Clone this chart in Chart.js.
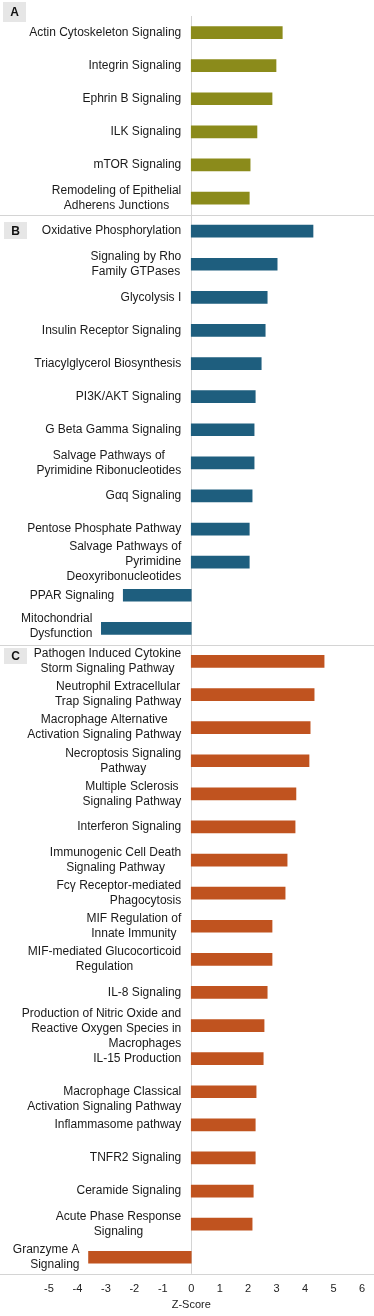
<!DOCTYPE html>
<html lang="en">
<head>
  <meta charset="UTF-8">
  <title>Z-Score pathways</title>
  <script src="https://cdn.jsdelivr.net/npm/chart.js"></script>
  <style>
    body { margin: 0; background: #fff; }
    #wrap { width: 374px; height: 1316px; }
  </style>
</head>
<body>
  <div id="wrap"><canvas id="myChart" width="374" height="1316"></canvas></div>

  <script>
    // panel A
    const labelsA = [
      ['Actin Cytoskeleton Signaling'],
      ['Integrin Signaling'],
      ['Ephrin B Signaling'],
      ['ILK Signaling'],
      ['mTOR Signaling'],
      ['Remodeling of Epithelial', 'Adherens Junctions']
    ];
    const valuesA = [3.2, 2.98, 2.84, 2.31, 2.07, 2.04];

    // panel B
    const labelsB = [
      ['Oxidative Phosphorylation'],
      ['Signaling by Rho', 'Family GTPases'],
      ['Glycolysis I'],
      ['Insulin Receptor Signaling'],
      ['Triacylglycerol Biosynthesis'],
      ['PI3K/AKT Signaling'],
      ['G Beta Gamma Signaling'],
      ['Salvage Pathways of', 'Pyrimidine Ribonucleotides'],
      ['Gαq Signaling'],
      ['Pentose Phosphate Pathway'],
      ['Salvage Pathways of', 'Pyrimidine', 'Deoxyribonucleotides'],
      ['PPAR Signaling'],
      ['Mitochondrial', 'Dysfunction']
    ];
    const valuesB = [4.28, 3.02, 2.67, 2.6, 2.46, 2.25, 2.21, 2.21, 2.14, 2.04, 2.04, -2.39, -3.16];

    // panel C
    const labelsC = [
      ['Pathogen Induced Cytokine', 'Storm Signaling Pathway'],
      ['Neutrophil Extracellular', 'Trap Signaling Pathway'],
      ['Macrophage Alternative', 'Activation Signaling Pathway'],
      ['Necroptosis Signaling', 'Pathway'],
      ['Multiple Sclerosis', 'Signaling Pathway'],
      ['Interferon Signaling'],
      ['Immunogenic Cell Death', 'Signaling Pathway'],
      ['Fcγ Receptor-mediated', 'Phagocytosis'],
      ['MIF Regulation of', 'Innate Immunity'],
      ['MIF-mediated Glucocorticoid', 'Regulation'],
      ['IL-8 Signaling'],
      ['Production of Nitric Oxide and', 'Reactive Oxygen Species in', 'Macrophages'],
      ['IL-15 Production'],
      ['Macrophage Classical', 'Activation Signaling Pathway'],
      ['Inflammasome pathway'],
      ['TNFR2 Signaling'],
      ['Ceramide Signaling'],
      ['Acute Phase Response', 'Signaling'],
      ['Granzyme A', 'Signaling']
    ];
    const valuesC = [4.67, 4.32, 4.18, 4.14, 3.68, 3.65, 3.37, 3.3, 2.84, 2.84, 2.67, 2.56, 2.53, 2.28, 2.25, 2.25, 2.18, 2.14, -3.61];

    const panelNames = ['A', 'B', 'C'];
    const xTicks = [-5, -4, -3, -2, -1, 0, 1, 2, 3, 4, 5, 6];
    const xTitle = 'Z-Score';

    const colors = ['#8b8b1b', '#1e5e7e', '#c0531f'];
    const groups = [labelsA, labelsB, labelsC];
    const groupVals = [valuesA, valuesB, valuesC];

    const allLabels = [];
    const allValues = [];
    const barColors = [];
    const groupStart = [];
    groups.forEach(function(g, gi) {
      groupStart.push(allLabels.length);
      g.forEach(function(l, i) {
        allLabels.push(l);
        allValues.push(groupVals[gi][i]);
        barColors.push(colors[gi]);
      });
    });

    // multi-line labels whose lines are centred on each other (others are right aligned)
    const centredText = [
      'Remodeling of Epithelial', 'Signaling by Rho', 'Salvage Pathways of|Pyrimidine Ribonucleotides',
      'Pathogen Induced Cytokine', 'Neutrophil Extracellular', 'Macrophage Alternative',
      'Necroptosis Signaling', 'Multiple Sclerosis', 'Immunogenic Cell Death',
      'MIF Regulation of', 'MIF-mediated Glucocorticoid', 'Acute Phase Response'
    ];
    const nudge = { 'Macrophage Classical': 7, 'Production of Nitric Oxide and': 3, 'Mitochondrial': -2 };

    const FONT = '"Liberation Sans", Arial, sans-serif';

    const decor = {
      id: 'decor',
      beforeDatasetsDraw(chart) {
        const c = chart.ctx;
        const area = chart.chartArea;
        const x = chart.scales.x;
        const y = chart.scales.y;
        c.save();
        c.strokeStyle = '#d4d4d4';
        c.lineWidth = 1;
        // zero line
        const x0 = Math.round(x.getPixelForValue(0)) + 0.5;
        c.beginPath();
        c.moveTo(x0, area.top);
        c.lineTo(x0, area.bottom);
        c.stroke();
        // panel separators and bottom axis
        const half = (y.getPixelForValue(1) - y.getPixelForValue(0)) / 2;
        groupStart.slice(1).forEach(function(s) {
          const yy = Math.round(y.getPixelForValue(s) - half) + 0.5;
          c.beginPath();
          c.moveTo(0, yy);
          c.lineTo(chart.width, yy);
          c.stroke();
        });
        const yb = Math.round(area.bottom) + 0.5;
        c.beginPath();
        c.moveTo(0, yb);
        c.lineTo(chart.width, yb);
        c.stroke();
        c.restore();
      },
      afterDraw(chart) {
        const c = chart.ctx;
        const area = chart.chartArea;
        const x = chart.scales.x;
        const y = chart.scales.y;
        const x0 = x.getPixelForValue(0);
        c.save();
        c.font = '12px ' + FONT;
        c.fillStyle = '#1a1a1a';
        c.textBaseline = 'middle';
        allLabels.forEach(function(lines, i) {
          const v = allValues[i];
          const right = v < 0 ? x.getPixelForValue(v) - 9 : x0 - 10;
          const lh = 15;
          const cy = y.getPixelForValue(i) + (nudge[lines[0]] || 0);
          const top = cy - (lines.length - 1) * lh / 2;
          const key = lines.join('|');
          const centred = centredText.indexOf(lines[0]) >= 0 || centredText.indexOf(key) >= 0;
          const widths = lines.map(function(t) { return c.measureText(t).width; });
          const maxW = Math.max.apply(null, widths);
          lines.forEach(function(t, k) {
            let xr = right;
            if (centred) xr = right - (maxW - widths[k]) / 2;
            c.textAlign = 'right';
            c.fillText(t, xr, top + k * lh);
          });
        });
        // axis title
        c.font = '11px ' + FONT;
        c.fillStyle = '#222';
        c.textAlign = 'center';
        c.fillText(xTitle, x0, area.bottom + 31);
        // panel letter boxes
        const boxes = [[3, 2, 23, 20], [4, 222, 23, 17], [4, 648, 23, 16]];
        panelNames.forEach(function(n, i) {
          const b = boxes[i];
          c.fillStyle = '#e6e6e6';
          c.fillRect(b[0], b[1], b[2], b[3]);
          c.fillStyle = '#111';
          c.font = 'bold 12px ' + FONT;
          c.textAlign = 'center';
          c.fillText(n, b[0] + b[2] / 2, b[1] + b[3] / 2 + 1);
        });
        c.restore();
      }
    };

    const ctx = document.getElementById('myChart');
    const chart = new Chart(ctx, {
      type: 'bar',
      data: {
        labels: allLabels.map(function(l) { return l.join(' '); }),
        datasets: [{
          data: allValues,
          backgroundColor: barColors,
          barThickness: 12
        }]
      },
      options: {
        indexAxis: 'y',
        responsive: false,
        animation: false,
        layout: {
          padding: { top: 16, left: 49, right: 11, bottom: 11 }
        },
        scales: {
          x: {
            min: -5,
            max: 6,
            afterBuildTicks: function(axis) {
              axis.ticks = xTicks.map(function(v) { return { value: v }; });
            },
            grid: { display: false, drawTicks: false, tickLength: 0 },
            border: { display: false },
            ticks: {
              padding: 9,
              color: '#222',
              font: { size: 11, family: FONT }
            }
          },
          y: {
            display: false
          }
        },
        plugins: {
          legend: { display: false },
          tooltip: { enabled: false }
        }
      },
      plugins: [decor]
    });
  </script>
</body>
</html>
